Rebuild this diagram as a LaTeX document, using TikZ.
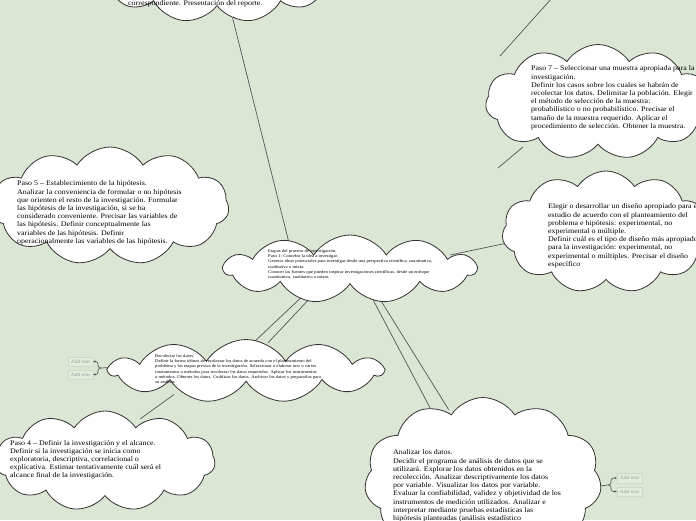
\documentclass[tikz,border=0pt]{standalone}
\usepackage{fontspec}
\setmainfont{Liberation Serif}[FakeStretch=1.12]
\usetikzlibrary{shapes.symbols,shapes.geometric,arrows.meta,calc}
\definecolor{bg}{RGB}{220,230,213}
\definecolor{cloudline}{RGB}{50,50,50}
\definecolor{linegray}{RGB}{85,85,85}
\definecolor{boxfill}{RGB}{226,235,221}
\definecolor{boxline}{RGB}{205,218,200}
\definecolor{addgray}{RGB}{150,160,150}
\tikzset{
  anch/.style={ellipse, draw=none, inner sep=0pt},
  cloudbox/.style={cloud, cloud puffs=11, cloud puff arc=115, cloud ignores aspect,
    draw=cloudline, fill=white, line width=0.8pt, inner sep=0pt},
  conn/.style={draw=linegray, line width=0.7pt},
  brk/.style={draw=linegray, line width=0.6pt, rounded corners=2.5pt, -{Stealth[length=2.4pt,width=2.2pt]}},
  bigtxt/.style={anchor=north west, inner sep=0pt, align=left, text=black,
    font=\fontsize{7.1}{8.2}\selectfont},
  smalltxt/.style={anchor=north west, inner sep=0pt, align=left, text=black,
    font=\fontsize{4.2}{5.3}\selectfont},
  addbox/.style={draw=boxline, fill=boxfill, text=addgray, inner sep=0pt,
    font=\fontsize{5}{6}\selectfont, minimum width=25pt, minimum height=9.5pt}
}
\begin{document}
\begin{tikzpicture}[x=1pt,y=-1pt]
\useasboundingbox (0,0) rectangle (696,520);
\fill[bg] (0,0) rectangle (696,520);
\begin{scope}
\clip (0,0) rectangle (696,520);
% anchor ellipses (invisible) that carry the connector ends
\node[anch, minimum width=211pt, minimum height=86pt] (top) at (217,-25) {};
\node[anch, minimum width=202pt, minimum height=104pt] (p7) at (598,102) {};
\node[anch, minimum width=214pt, minimum height=106pt] (p5) at (110,206) {};
\node[anch, minimum width=187pt, minimum height=110pt] (p6) at (606,232) {};
\node[anch, minimum width=226pt, minimum height=61pt] (ctr) at (350,269) {};
\node[anch, minimum width=246pt, minimum height=57pt] (rec) at (246,371) {};
\node[anch, minimum width=198pt, minimum height=90pt] (p4) at (105,461) {};
\node[anch, minimum width=213pt, minimum height=148pt] (ana) at (483,480) {};

% free ends of connectors
\coordinate (jl) at (101,368);
\coordinate (jr) at (608,485);
\coordinate (p7up) at ($(p7)+(-46,-104)$);
\coordinate (p7in) at ($(p7)+(-98,-46)$);
\coordinate (p7low) at ($(p7)+(-75,45)$);
\coordinate (p7out) at ($(p7)+(-100,66)$);

% connectors, drawn before the clouds so the clouds cover their ends
\draw[conn] (top.-70) -- (ctr.157);
\draw[conn] (ctr.8) -- (p6.186);
\draw[conn] (ctr.210) -- (rec.75);
\draw[conn] (ctr.216) -- (rec.52);
\draw[conn] (ctr.-53) -- (ana.127);
\draw[conn] (ctr.-45) -- (ana.116);
\draw[conn] (rec.198) -- (p4.50);
\draw[conn] (rec.178) -- (jl);
\draw[conn] (ana.-4) -- (jr);
\draw[conn] (p7up) -- (p7in);
\draw[conn] (p7low) -- (p7out);

% visible clouds
\node[cloudbox, minimum width=235pt, minimum height=95pt] (topc) at (top) {};
\node[cloudbox, minimum width=225pt, minimum height=115pt] (p7c) at (p7) {};
\node[cloudbox, minimum width=238pt, minimum height=118pt] (p5c) at (p5) {};
\node[cloudbox, minimum width=208pt, minimum height=122pt] (p6c) at (p6) {};
\node[cloudbox, minimum width=252pt, minimum height=68pt] (ctrc) at (ctr) {};
\node[cloudbox, minimum width=273pt, minimum height=63pt] (recc) at (rec) {};
\node[cloudbox, minimum width=220pt, minimum height=100pt] (p4c) at (p4) {};
\node[cloudbox, minimum width=237pt, minimum height=165pt] (anac) at (ana) {};

% add text boxes
\node[addbox] (al1) at (80.5,361.5) {Add text};
\node[addbox] (al2) at (80.5,374.5) {Add text};
\draw[brk] (jl) -- ++(-3,0) |- (al1.east);
\draw[brk] (jl) -- ++(-3,0) |- (al2.east);
\node[addbox] (ar1) at (629.5,478) {Add text};
\node[addbox] (ar2) at (629.5,491.5) {Add text};
\draw[brk] (jr) -- ++(3,0) |- (ar1.west);
\draw[brk] (jr) -- ++(3,0) |- (ar2.west);

% texts
\node[bigtxt] (ttop) at (128,0.8) {correspondiente. Presentación del reporte.};
\node[bigtxt] (t7) at (531,65.8) {Paso 7 – Seleccionar una muestra apropiada para la\\
investigación.\\
Definir los casos sobre los cuales se habrán de\\
recolectar los datos. Delimitar la población. Elegir\\
el método de selección de la muestra:\\
probabilístico o no probabilístico. Precisar el\\
tamaño de la muestra requerido. Aplicar el\\
procedimiento de selección. Obtener la muestra.};
\node[bigtxt] (t5) at (17,180.8) {Paso 5 – Establecimiento de la hipótesis.\\
Analizar la conveniencia de formular o no hipótesis\\
que orienten el resto de la investigación. Formular\\
las hipótesis de la investigación, si se ha\\
considerado conveniente. Precisar las variables de\\
las hipótesis. Definir conceptualmente las\\
variables de las hipótesis. Definir\\
operacionalmente las variables de las hipótesis.};
\node[bigtxt] (t6) at (548,203.8) {Elegir o desarrollar un diseño apropiado para el\\
estudio de acuerdo con el planteamiento del\\
problema e hipótesis: experimental, no\\
experimental o múltiple.\\
Definir cuál es el tipo de diseño más apropiado\\
para la investigación: experimental, no\\
experimental o múltiples. Precisar el diseño\\
específico};
\node[smalltxt] (tc) at (268,249) {Etapas del proceso de investigación.\\
Paso 1- Concebir la idea a investigar.\\
Generar ideas potenciales para investigar desde una perspectiva científica, cuantitativa,\\
cualitativa o mixta.\\
Conocer las fuentes que pueden inspirar investigaciones científicas, desde un enfoque\\
cuantitativo, cualitativo o mixto.};
\node[smalltxt] (tr) at (155,354) { Recolectar los datos.\\
Definir la forma idónea de recolectar los datos de acuerdo con el planteamiento del\\
problema y las etapas previas de la investigación. Seleccionar o elaborar uno o varios\\
instrumentos o métodos para recolectar los datos requeridos. Aplicar los instrumentos\\
o métodos. Obtener los datos. Codificar los datos. Archivar los datos y prepararlos para\\
su análisis.};
\node[bigtxt] (t4) at (10,439.8) {Paso 4 – Definir la investigación y el alcance.\\
Definir si la investigación se inicia como\\
exploratoria, descriptiva, correlacional o\\
explicativa. Estimar tentativamente cuál será el\\
alcance final de la investigación.};
\node[bigtxt] (ta) at (393,449.8) {Analizar los datos.\\
Decidir el programa de análisis de datos que se\\
utilizará. Explorar los datos obtenidos en la\\
recolección. Analizar descriptivamente los datos\\
por variable. Visualizar los datos por variable.\\
Evaluar la confiabilidad, validez y objetividad de los\\
instrumentos de medición utilizados. Analizar e\\
interpretar mediante pruebas estadísticas las\\
hipótesis planteadas (análisis estadístico};
\end{scope}
\end{tikzpicture}
\end{document}
